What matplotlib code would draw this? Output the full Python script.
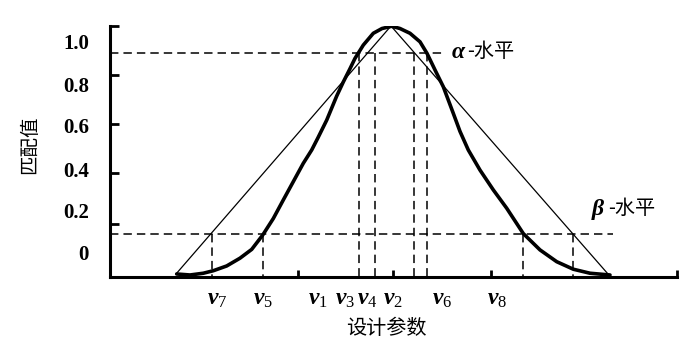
import numpy as np
import matplotlib.pyplot as plt

plt.rcParams['mathtext.fontset'] = 'custom'
plt.rcParams['mathtext.it'] = 'Liberation Serif:italic:bold'
plt.rcParams['mathtext.rm'] = 'Liberation Serif'

# 隶属曲线（从图上读取的点）
curve_x = [66.7, 80, 93.3, 103.3, 116.7, 130, 141.7, 152.7, 163.3, 173.3, 183.3, 193.3, 201.7, 208, 216.7,
           226.7, 233.3, 240, 245, 253.3, 263.3, 272, 281.7,
           290, 300, 310, 317, 325, 333.3, 343.3, 350, 358.3, 370, 383.3, 396.7, 413.3, 430, 446.7, 463.3,
           480, 500]
curve_y = [0.012, 0.008, 0.015, 0.025, 0.044, 0.075, 0.110, 0.167, 0.233, 0.307, 0.380, 0.453, 0.506, 0.555, 0.625,
           0.721, 0.777, 0.830, 0.871, 0.924, 0.971, 0.990, 0.999,
           0.990, 0.971, 0.937, 0.891, 0.825, 0.758, 0.652, 0.580, 0.506, 0.426, 0.347, 0.274, 0.173, 0.108,
           0.061, 0.031, 0.015, 0.008]

# 三角形隶属函数
tri_x = [66, 281, 498]
tri_y = [0.012, 1.0, 0.012]

alpha_level = 0.894
beta_level = 0.171
alpha_end = 333
beta_end = 503
alpha_cut = [249, 265, 304, 317]
beta_cut = [102, 153, 413, 463]

xtick_pos = [188, 283, 381, 567]
ytick_pos = [0.211, 0.414, 0.61, 0.805, 1.0]

v_labels = ['$v_7$', '$v_5$', '$v_1$', '$v_3$', '$v_4$', '$v_2$', '$v_6$', '$v_8$']
v_label_x = [107, 153, 208, 235, 257, 283, 332, 387]

y_labels = ['0', '0.2', '0.4', '0.6', '0.8', '1.0']
y_label_pos = [0.088, 0.255, 0.418, 0.594, 0.757, 0.928]

fig = plt.figure(figsize=(7, 3.52), dpi=100)
ax = fig.add_axes([110 / 700, 75 / 352, 567 / 700, 251 / 352])
ax.set_xlim(0, 567)
ax.set_ylim(0, 1.0)

dash = dict(color='black', lw=1.1, dashes=(5.5, 3.3))

ax.plot(curve_x, curve_y, color='black', lw=2.6, solid_capstyle='round', solid_joinstyle='round', zorder=3)
ax.plot(tri_x, tri_y, color='black', lw=0.9, zorder=3)

ax.plot([0, alpha_end], [alpha_level, alpha_level], **dash)
ax.plot([0, beta_end], [beta_level, beta_level], **dash)
for xc in alpha_cut:
    ax.plot([xc, xc], [alpha_level, 0], **dash)
for xc in beta_cut:
    ax.plot([xc, xc], [beta_level, 0], **dash)

for s in ['top', 'right']:
    ax.spines[s].set_visible(False)
for s in ['left', 'bottom']:
    ax.spines[s].set_linewidth(2.2)
ax.set_xticks(xtick_pos)
ax.set_yticks(ytick_pos)
ax.set_xticklabels([])
ax.set_yticklabels([])
ax.tick_params(axis='x', direction='in', length=5, width=2)
ax.tick_params(axis='y', direction='in', length=6.5, width=2)

for lab, xp in zip(v_labels, v_label_x):
    ax.text(xp, -0.085, lab, ha='center', va='center', fontsize=17, clip_on=False)
for lab, yp in zip(y_labels, y_label_pos):
    ax.text(-21, yp, lab, ha='right', va='center', fontsize=15, fontweight='bold',
            family='Liberation Serif', clip_on=False)

ax.text(342, alpha_level, 'α', ha='left', va='center', fontsize=17, fontweight='bold',
        style='italic', family='Liberation Serif')
ax.text(357, alpha_level + 0.005, '-水平', ha='left', va='center', fontsize=14.5, family='Noto Sans CJK SC')
ax.text(482, 0.267, 'β', ha='left', va='center', fontsize=17, fontweight='bold',
        style='italic', family='Liberation Serif')
ax.text(498, 0.272, '-水平', ha='left', va='center', fontsize=14.5, family='Noto Sans CJK SC')

fig.text(30 / 700, 1 - 145 / 352, '匹配值', rotation=90, ha='center', va='center',
         fontsize=14, family='Noto Sans CJK SC')
fig.text(386 / 700, 1 - 329 / 352, '设计参数', ha='center', va='center',
         fontsize=14.5, family='Noto Sans CJK SC')

fig.savefig('out.png', dpi=100, facecolor='white')
